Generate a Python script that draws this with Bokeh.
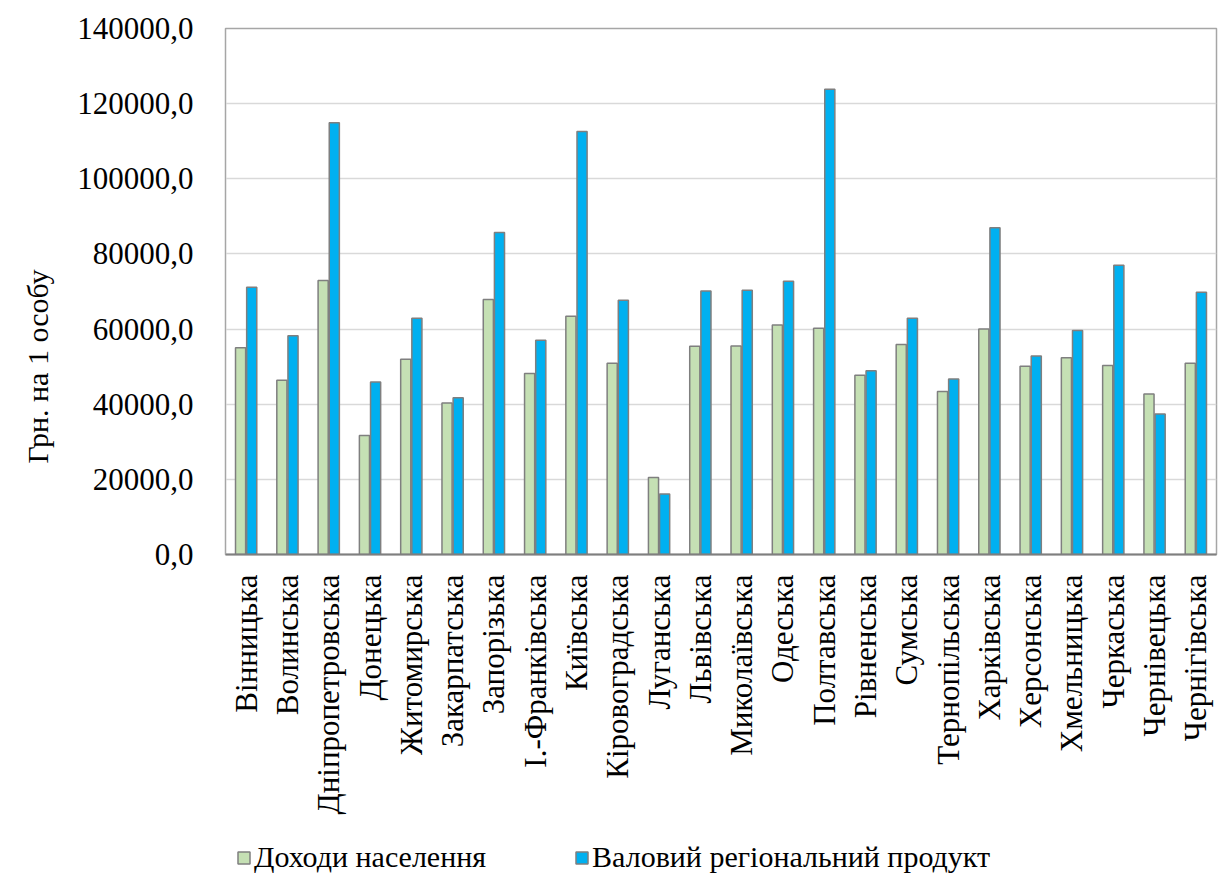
import math
from bokeh.plotting import figure
from bokeh.layouts import column
from bokeh.models import (FactorRange, ColumnDataSource, Legend, LegendItem,
                          SingleIntervalTicker, Range1d, Title)
from bokeh.transform import dodge
from bokeh.embed import file_html
from bokeh.resources import INLINE

regions = ["Вінницька", "Волинська", "Дніпропетровська", "Донецька", "Житомирська",
           "Закарпатська", "Запорізька", "І.-Франківська", "Київська", "Кіровоградська",
           "Луганська", "Львівська", "Миколаївська", "Одеська", "Полтавська",
           "Рівненська", "Сумська", "Тернопільська", "Харківська", "Херсонська",
           "Хмельницька", "Черкаська", "Чернівецька", "Чернігівська"]

income = [55000, 46400, 72900, 31700, 52000, 40300, 67900, 48200, 63400, 50900,
          20500, 55400, 55500, 61100, 60200, 47700, 55900, 43400, 60000, 50100,
          52400, 50300, 42700, 50900]

grp = [71100, 58200, 114900, 45900, 62900, 41700, 85700, 57000, 112600, 67700,
       16100, 70100, 70300, 72700, 123800, 48900, 62900, 46700, 87000, 52800,
       59600, 77000, 37400, 69800]

series_names = ["Доходи населення", "Валовий регіональний продукт"]
y_title = "Грн. на 1 особу"
tick_values = [0, 20000, 40000, 60000, 80000, 100000, 120000, 140000]
tick_labels = ["0,0", "20000,0", "40000,0", "60000,0", "80000,0", "100000,0", "120000,0", "140000,0"]

FONT = "Liberation Serif"
GREEN = "#c5e0b4"
BLUE = "#00b0f0"
EDGE = "#7f7f7f"

src = ColumnDataSource(dict(region=regions, income=income, grp=grp))

p = figure(x_range=FactorRange(*regions, range_padding=0),
           y_range=Range1d(0, 140000),
           frame_width=991, frame_height=526,
           min_border_left=225, min_border_right=5, min_border_top=28, min_border_bottom=272,
           output_backend="svg", toolbar_location=None)

p.vbar(x=dodge("region", -0.135, range=p.x_range), top="income", width=0.245,
       source=src, fill_color=GREEN, line_color=EDGE, line_width=1.5)
p.vbar(x=dodge("region", 0.135, range=p.x_range), top="grp", width=0.245,
       source=src, fill_color=BLUE, line_color=EDGE, line_width=1.5)

# frame and grid
p.outline_line_color = "#a6a6a6"
p.outline_line_width = 1.5
p.background_fill_color = "white"
p.border_fill_color = "white"
p.xgrid.grid_line_color = None
p.ygrid.grid_line_color = "#d9d9d9"
p.ygrid.grid_line_width = 1.5

# y axis
p.yaxis.ticker = SingleIntervalTicker(interval=20000)
p.yaxis.major_label_overrides = dict(zip(tick_values, tick_labels))
p.yaxis.major_label_text_font = FONT
p.yaxis.major_label_text_font_size = "31px"
p.yaxis.major_label_text_color = "black"
p.yaxis.major_label_standoff = 28
p.yaxis.major_tick_line_color = None
p.yaxis.major_tick_out = 0
p.yaxis.minor_tick_line_color = None
p.yaxis.axis_line_color = "#a6a6a6"

# y axis title, set a little below the frame's middle
ytitle = Title(text=y_title, align="left", offset=91, standoff=38,
               vertical_align="top", text_font=FONT, text_font_size="30px",
               text_font_style="normal", text_color="black")
p.add_layout(ytitle, "left")

# x axis
p.xaxis.major_label_orientation = math.pi / 2
p.xaxis.major_label_text_font = FONT
p.xaxis.major_label_text_font_size = "31px"
p.xaxis.major_label_text_color = "black"
p.xaxis.major_label_standoff = 20
p.xaxis.major_tick_line_color = None
p.xaxis.major_tick_out = 0
p.xaxis.axis_line_color = EDGE
p.xaxis.axis_line_width = 2

# legend strip under the chart; its key renderers are hidden, only the legend shows
lf = figure(width=1221, height=56, x_range=Range1d(0, 1), y_range=Range1d(0, 1),
            x_axis_type=None, y_axis_type=None, min_border=0,
            output_backend="svg", toolbar_location=None)
lf.outline_line_color = None
lf.xgrid.grid_line_color = None
lf.ygrid.grid_line_color = None
k1 = lf.vbar(x=0.5, top="income", width=0.1, source=src, visible=False,
             fill_color=GREEN, line_color=EDGE, line_width=1.5)
k2 = lf.vbar(x=0.5, top="grp", width=0.1, source=src, visible=False,
             fill_color=BLUE, line_color=EDGE, line_width=1.5)

legend = Legend(items=[LegendItem(label=series_names[0], renderers=[k1]),
                       LegendItem(label=series_names[1], renderers=[k2])],
                orientation="horizontal", location=(11, 8))
legend.label_text_font = FONT
legend.label_text_font_size = "30px"
legend.label_text_color = "black"
legend.glyph_width = 15
legend.glyph_height = 15
legend.label_standoff = 3
legend.spacing = 88
legend.margin = 0
legend.padding = 4
legend.border_line_color = None
legend.background_fill_alpha = 0
legend.inactive_fill_alpha = 0
lf.add_layout(legend)

open("out.html", "w").write(file_html(column(p, lf, spacing=0), INLINE))
